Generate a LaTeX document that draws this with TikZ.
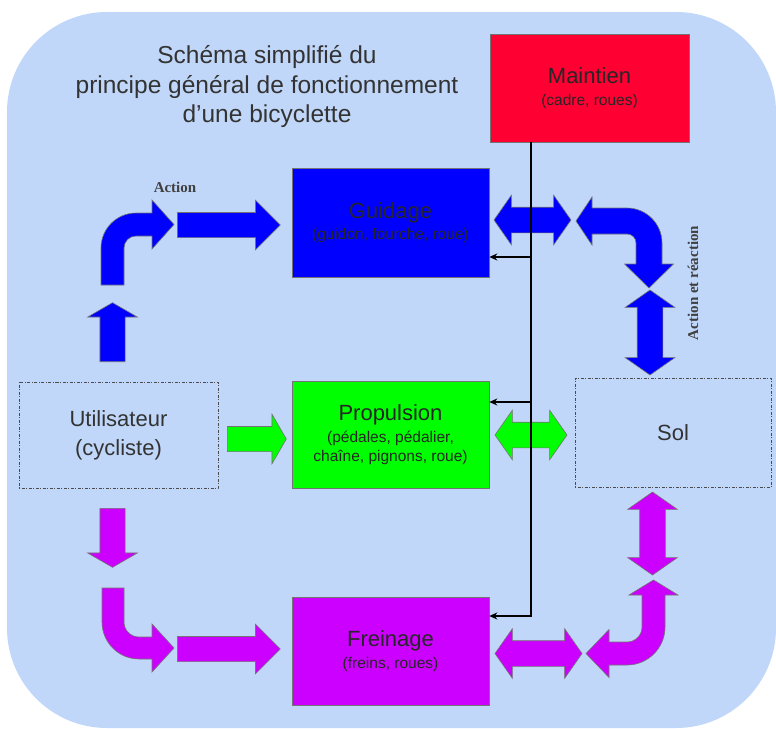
\documentclass[tikz,border=0pt]{standalone}
\usepackage{fontspec}
\setmainfont{Liberation Sans}
\newfontfamily\labelfont{Liberation Serif}
\usetikzlibrary{shapes.arrows,arrows.meta}
\definecolor{bgblue}{RGB}{192,215,249}
\definecolor{maintienred}{RGB}{255,0,51}
\definecolor{guidageblue}{RGB}{0,0,255}
\definecolor{propulsiongreen}{RGB}{0,255,0}
\definecolor{freinagepurple}{RGB}{204,0,255}

\begin{document}
\begin{tikzpicture}
    [x=1pt,y=-1pt,
     boxstyle/.style={draw=black!55,line width=0.6pt,align=center,text=black!85,inner sep=0pt,font=\fontsize{15.5}{18.5}\selectfont},
     dottedstyle/.style={draw=black!70,line width=0.8pt,dash pattern=on 1pt off 1.5pt on 3pt off 1.5pt,align=center,text=black!80,inner sep=0pt,font=\fontsize{22}{29}\selectfont},
     arrowstyle/.style={single arrow,draw=black!55,line width=0.6pt,inner xsep=0pt,inner ysep=12.25pt,single arrow head extend=12.25pt,single arrow tip angle=90},
     bluntarrowstyle/.style={arrowstyle,single arrow tip angle=120},
     doublestyle/.style={double arrow,draw=black!55,line width=0.6pt,inner xsep=0pt,inner ysep=12.5pt,double arrow head extend=12pt,double arrow tip angle=110},
     bendstyle/.style={draw=black!55,line width=0.6pt},
     feedstyle/.style={draw=black,line width=1.4pt,-{Stealth[length=8pt,width=7pt]}},
     labelstyle/.style={font=\labelfont\bfseries\fontsize{15}{15}\selectfont,text=black!75}]

    \useasboundingbox (0,0) rectangle (776,728);
    \fill [bgblue,rounded corners=100pt] (7,12) rectangle (776,728);

    \node [align=center,text=black!80,font=\fontsize{24.5}{29.5}\selectfont] (titre) at (267,87)
      {Schéma simplifié du\\principe général de fonctionnement\\d'une bicyclette};

    \node [boxstyle,fill=maintienred,minimum width=199pt,minimum height=108pt] (maintien) at (589.5,88)
      {{\fontsize{22}{22}\selectfont Maintien}\\[3pt](cadre, roues)};
    \node [boxstyle,fill=guidageblue,minimum width=197pt,minimum height=109pt] (guidage) at (390.5,222.5)
      {{\fontsize{22}{22}\selectfont Guidage}\\[3pt](guidon, fourche, roue)};
    \node [boxstyle,fill=propulsiongreen,minimum width=197pt,minimum height=107pt] (propulsion) at (390.5,434.5)
      {{\fontsize{22}{22}\selectfont Propulsion}\\[4pt](pédales, pédalier,\\chaîne, pignons, roue)};
    \node [boxstyle,fill=freinagepurple,minimum width=197pt,minimum height=108pt] (freinage) at (390.5,651)
      {{\fontsize{22}{22}\selectfont Freinage}\\[3pt](freins, roues)};
    \node [dottedstyle,minimum width=199pt,minimum height=106pt] (utilisateur) at (118.5,435)
      {Utilisateur\\(cycliste)};
    \node [dottedstyle,minimum width=196pt,minimum height=109pt] (sol) at (673,432.5) {Sol};

    \node [bluntarrowstyle,fill=guidageblue,minimum height=59pt,rotate=90,anchor=tail] (guidageup) at (112.5,362) {};
    \draw [bendstyle,fill=guidageblue] (101,285) -- (101,248) .. controls (101,228.7) and (116.7,213) .. (136,213)
      -- (152,213) -- (152,200) -- (174,224.5) -- (152,249) -- (152,236) -- (136,236)
      .. controls (129.4,236) and (124,241.4) .. (124,248) -- (124,285) -- cycle;
    \node [arrowstyle,fill=guidageblue,minimum height=103pt,anchor=tail] (guidagein) at (177,225) {};
    \node [doublestyle,fill=guidageblue,minimum height=77pt] (guidagesol) at (532.5,220) {};
    \draw [bendstyle,fill=guidageblue] (592,208) -- (627,208) .. controls (646.3,208) and (662,223.7) .. (662,243)
      -- (662,264) -- (673.5,264) -- (649,288) -- (624.5,264) -- (636,264) -- (636,243)
      .. controls (636,238) and (632,234) .. (627,234) -- (592,234) -- (592,245) -- (576,221) -- (592,197) -- cycle;
    \node [doublestyle,fill=guidageblue,minimum height=85pt,rotate=90] (guidagesolv) at (650,332.5) {};

    \node [bluntarrowstyle,fill=propulsiongreen,minimum height=59pt,anchor=tail] (propulsionin) at (227,439) {};
    \node [doublestyle,fill=propulsiongreen,minimum height=72pt] (propulsionsol) at (531,435) {};

    \node [bluntarrowstyle,fill=freinagepurple,minimum height=59pt,rotate=-90,anchor=tail] (freinagedown) at (112.5,508) {};
    \draw [bendstyle,fill=freinagepurple] (102,588) -- (102,622) .. controls (102,642.4) and (118.6,659) .. (139,659)
      -- (152,659) -- (152,672) -- (174,648) -- (152,624) -- (152,637) -- (139,637)
      .. controls (130.7,637) and (124,630.3) .. (124,622) -- (124,588) -- cycle;
    \node [arrowstyle,fill=freinagepurple,minimum height=103pt,anchor=tail] (freinagein) at (177,649) {};
    \node [doublestyle,fill=freinagepurple,minimum height=87pt] (freinagesol) at (538.5,653.5) {};
    \draw [bendstyle,fill=freinagepurple] (609,642) -- (627,642) .. controls (635.3,642) and (642,635.3) .. (642,627)
      -- (642,595) -- (629,595) -- (653.5,580) -- (678,595) -- (665,595) -- (665,627)
      .. controls (665,648) and (648,665) .. (627,665) -- (609,665) -- (609,677.5) -- (586,653.5) -- (609,629.5) -- cycle;
    \node [doublestyle,fill=freinagepurple,minimum height=83pt,rotate=90] (freinagesolv) at (652.5,533.5) {};

    \coordinate (spinetop) at (531,142);
    \coordinate (spineg) at (531,257);
    \coordinate (spinep) at (531,402);
    \coordinate (spinef) at (531,616);
    \draw [feedstyle] (spinetop) |- (spinef -| freinage.east);
    \draw [feedstyle] (spineg) -- (spineg -| guidage.east);
    \draw [feedstyle] (spinep) -- (spinep -| propulsion.east);

    \node [labelstyle] (action) at (175,187) {Action};
    \node [labelstyle,rotate=90] (actionreaction) at (693,283) {Action et réaction};
  \end{tikzpicture}
\end{document}
